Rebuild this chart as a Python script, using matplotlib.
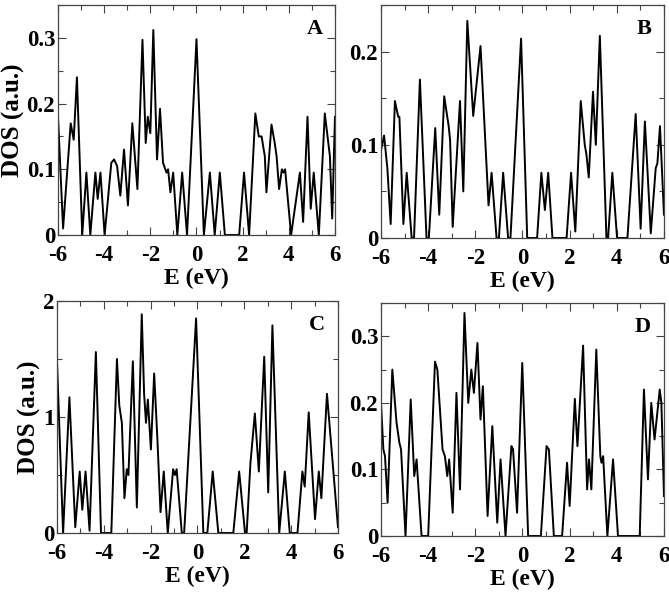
import numpy as np
from matplotlib import pyplot as plt
from matplotlib.ticker import MultipleLocator, FuncFormatter

plt.rcParams["font.family"] = ["Liberation Serif", "DejaVu Serif"]
plt.rcParams["font.weight"] = "bold"

# panel A
e_a = [-6.0, -5.78, -5.45, -5.32, -5.18, -4.95, -4.77, -4.6, -4.38, -4.28, -4.16, -3.98,
       -3.69, -3.57, -3.44, -3.3, -3.14, -2.97, -2.78, -2.56, -2.34, -2.2, -2.11, -2.0,
       -1.87, -1.71, -1.58, -1.45, -1.3, -1.23, -1.13, -1.01, -0.83, -0.62, -0.41, 0.0,
       0.32, 0.58, 0.79, 1.01, 1.23, 1.85, 2.06, 2.28, 2.55, 2.7, 2.82, 2.96, 3.03, 3.25,
       3.39, 3.47, 3.58, 3.7, 3.77, 3.84, 4.1, 4.48, 4.62, 4.81, 4.95, 5.08, 5.3, 5.56,
       5.78, 5.88, 6.0]
dos_a = [0.18, 0.01, 0.17, 0.145, 0.24, 0.0, 0.095, 0.0, 0.095, 0.055, 0.095, 0.0,
         0.11, 0.115, 0.105, 0.06, 0.13, 0.045, 0.17, 0.07, 0.297, 0.14, 0.18, 0.155,
         0.312, 0.115, 0.192, 0.11, 0.095, 0.1, 0.065, 0.095, 0.0, 0.095, 0.0, 0.298,
         0.0, 0.095, 0.0, 0.095, 0.0, 0.0, 0.095, 0.0, 0.185, 0.15, 0.15, 0.12, 0.065, 0.168,
         0.14, 0.12, 0.07, 0.1, 0.095, 0.1, 0.0, 0.095, 0.02, 0.18, 0.04, 0.095, 0.0, 0.185,
         0.12, 0.025, 0.18]

# panel B
e_b = [-6.0, -5.87, -5.73, -5.59, -5.41, -5.27, -5.22, -5.05, -4.91, -4.7, -4.6, -4.35,
       -4.07, -3.97, -3.7, -3.53, -3.32, -3.13, -3.07, -2.96, -2.65, -2.51, -2.34, -2.09,
       -1.78, -1.44, -1.31, -1.1, -1.0, -0.82, -0.61, -0.51, -0.06, 0.2, 0.62, 0.8, 0.95,
       1.09, 1.27, 1.87, 2.06, 2.24, 2.47, 2.64, 2.71, 2.81, 2.99, 3.11, 3.28, 3.56, 3.63,
       3.81, 4.01, 4.45, 4.8, 5.01, 5.19, 5.44, 5.65, 5.72, 5.83, 6.0]
dos_b = [0.094, 0.11, 0.075, 0.015, 0.147, 0.13, 0.13, 0.015, 0.07, 0.0, 0.0, 0.17,
         0.0, 0.0, 0.118, 0.025, 0.152, 0.12, 0.105, 0.012, 0.147, 0.05, 0.233, 0.131,
         0.206, 0.035, 0.07, 0.0, 0.0, 0.07, 0.0, 0.0, 0.214, 0.0, 0.0, 0.07, 0.03,
         0.07, 0.0, 0.0, 0.07, 0.007, 0.147, 0.1, 0.09, 0.065, 0.157, 0.1, 0.217, 0.0, 0.0,
         0.07, 0.0, 0.0, 0.133, 0.01, 0.125, 0.005, 0.075, 0.08, 0.12, 0.025]

# panel C
e_c = [-6.0, -5.74, -5.47, -5.22, -5.03, -4.92, -4.78, -4.61, -4.34, -4.12, -3.68, -3.44,
       -3.34, -3.23, -3.12, -3.02, -2.95, -2.76, -2.59, -2.38, -2.28, -2.2, -2.12, -1.99,
       -1.85, -1.71, -1.58, -1.44, -1.27, -1.04, -0.96, -0.89, -0.67, -0.57, -0.06, 0.25,
       0.42, 0.65, 0.89, 1.53, 1.78, 2.03, 2.1, 2.26, 2.45, 2.62, 2.85, 3.02, 3.2, 3.49,
       3.73, 3.94, 4.27, 4.48, 4.58, 4.75, 5.02, 5.18, 5.29, 5.53, 6.0]
dos_c = [1.48, 0.0, 1.17, 0.05, 0.53, 0.2, 0.53, 0.02, 1.56, 0.0, 0.0, 1.5,
         1.1, 0.95, 0.3, 0.55, 0.5, 1.48, 0.22, 1.885, 1.2, 0.95, 1.15, 0.72,
         1.375, 0.8, 0.18, 0.53, 0.0, 0.55, 0.5, 0.55, 0.0, 0.0, 1.85, 0.0,
         0.0, 0.53, 0.0, 0.0, 0.53, 0.0, 0.0, 0.6, 1.03, 0.53, 1.52, 0.35, 1.79, 0.0,
         0.53, 0.0, 0.0, 0.53, 0.4, 1.04, 0.12, 0.53, 0.3, 1.2, 0.05]

# panel D
e_d = [-6.0, -5.9, -5.83, -5.72, -5.52, -5.34, -5.22, -5.15, -4.96, -4.74, -4.59, -4.49,
       -4.28, -4.0, -3.71, -3.61, -3.39, -3.29, -3.19, -3.11, -2.96, -2.8, -2.65, -2.46,
       -2.3, -2.17, -2.06, -1.91, -1.78, -1.68, -1.48, -1.28, -1.07, -0.93, -0.72, -0.47,
       -0.4, -0.23, -0.01, 0.24, 0.78, 1.02, 1.12, 1.33, 1.68, 1.89, 2.0, 2.22, 2.33, 2.57,
       2.74, 2.82, 2.92, 3.13, 3.3, 3.35, 3.42, 3.6, 3.84, 4.05, 4.97, 5.15, 5.32, 5.46,
       5.6, 5.82, 5.89, 6.0]
dos_d = [0.2, 0.13, 0.12, 0.05, 0.25, 0.17, 0.14, 0.13, 0.0, 0.205, 0.09, 0.115,
         0.0, 0.0, 0.262, 0.25, 0.13, 0.12, 0.09, 0.115, 0.035, 0.215, 0.07, 0.335,
         0.2, 0.25, 0.215, 0.29, 0.175, 0.225, 0.03, 0.165, 0.02, 0.115, 0.0, 0.135,
         0.13, 0.035, 0.26, 0.0, 0.0, 0.135, 0.13, 0.0, 0.0, 0.11, 0.045, 0.206, 0.135, 0.286,
         0.07, 0.115, 0.07, 0.28, 0.12, 0.11, 0.12, 0.0, 0.115, 0.0, 0.0, 0.22, 0.085, 0.2,
         0.145, 0.22, 0.2, 0.06]

panels = [
    ("A", e_a, dos_a, 0.35, 0.1, 0.05, [0.0867, 0.607, 0.414, 0.3846], True),
    ("B", e_b, dos_b, 0.25, 0.1, 0.05, [0.5695, 0.602, 0.423, 0.3896], False),
    ("C", e_c, dos_c, 2.0, 1.0, 0.5, [0.0852, 0.1087, 0.42, 0.388], True),
    ("D", e_d, dos_d, 0.35, 0.1, 0.05, [0.5695, 0.1037, 0.423, 0.3896], False),
]


def fmt(v, pos):
    if abs(v) < 1e-9:
        return "0"
    return ("%g" % v)


fig = plt.figure(figsize=(6.69, 5.98), dpi=100)
for name, e, dos, ytop, ymaj, ymin, rect, ylab in panels:
    ax = fig.add_axes(rect)
    ax.plot(e, dos, color="black", lw=1.4)
    ax.set_xlim(-6, 6)
    ax.set_ylim(0, ytop)
    ax.xaxis.set_major_locator(MultipleLocator(2))
    ax.xaxis.set_minor_locator(MultipleLocator(1))
    ax.yaxis.set_major_locator(MultipleLocator(ymaj))
    ax.yaxis.set_minor_locator(MultipleLocator(ymin))
    ax.xaxis.set_major_formatter(FuncFormatter(fmt))
    ax.yaxis.set_major_formatter(FuncFormatter(fmt))
    ax.tick_params(which="both", direction="in", top=True, right=True,
                   labelsize=16.5, width=0.8, color="#444444")
    ax.tick_params(which="major", length=6)
    ax.tick_params(which="minor", length=3.5)
    ax.tick_params(axis="x", which="major", pad=7.5)
    ax.tick_params(axis="y", which="major", pad=2)
    for sp in ax.spines.values():
        sp.set_linewidth(0.9)
        sp.set_color("#444444")
    ax.set_xlabel("E (eV)", fontsize=17, fontweight="bold", labelpad=1)
    if ylab:
        ax.set_ylabel("DOS (a.u.)", fontsize=18, fontweight="bold", labelpad=1)
    ax.text(0.955, 0.895, name, transform=ax.transAxes, ha="right", va="center",
            fontsize=16, fontweight="bold")

plt.savefig("out.png", dpi=100)
